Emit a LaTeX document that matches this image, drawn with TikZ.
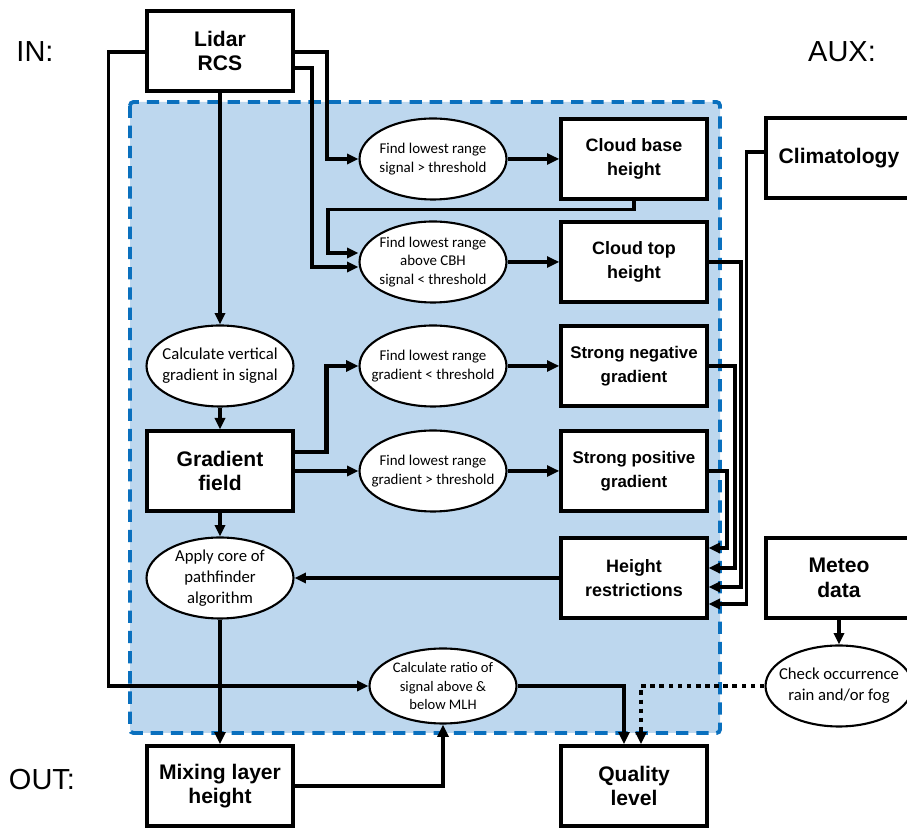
\documentclass[tikz,border=0pt]{standalone}
\usepackage{fontspec}
\setmainfont{Liberation Sans}
\newfontfamily\ellfont{Carlito}
\usepackage{tikz}
\usetikzlibrary{positioning, arrows.meta, shapes.geometric}
\definecolor{mlhfill}{RGB}{189, 215, 238}
\definecolor{mlhdash}{RGB}{10, 112, 190}
\tikzset{
    procbox/.style={rectangle, draw, line width=1.9pt, fill=white, minimum width=2.92cm, minimum height=1.6cm, align=center, font=\fontsize{10.2}{13.6}\selectfont\bfseries},
    bigbox/.style={procbox, font=\fontsize{12}{14}\selectfont\bfseries},
    stepell/.style={ellipse, draw, line width=1.2pt, fill=white, minimum width=2.94cm, minimum height=1.62cm, inner xsep=-12pt, inner ysep=0pt, align=center, font=\ellfont\fontsize{8.5}{10.4}\selectfont},
    bigell/.style={stepell, font=\ellfont\fontsize{9.5}{11.8}\selectfont},
    conn/.style={line width=2.1pt, -{Triangle[length=6.5pt, width=5.8pt]}},
    boldconn/.style={line width=2.6pt, -{Triangle[length=7pt, width=6.2pt]}},
    dotconn/.style={line width=2.4pt, dash pattern=on 2.6pt off 2.6pt, -{Triangle[length=7pt, width=6.2pt]}},
    iolabel/.style={font=\fontsize{16.5}{18}\selectfont}
}
\begin{document}
\begin{tikzpicture}[x=0.02cm, y=-0.02cm]
    \useasboundingbox (0,0) rectangle (907,830);
    % algorithm region
    \draw[mlhdash, fill=mlhfill, line width=2.2pt, dash pattern=on 7pt off 4.5pt, rounded corners=2pt] (130,102) rectangle (720,733);

    \node[iolabel] (inlbl) at (35,52) {IN:};
    \node[iolabel] (auxlbl) at (842,52) {AUX:};
    \node[iolabel] (outlbl) at (42,780) {OUT:};

    \node[bigbox] (lidar) at (220,51) {Lidar\\RCS};
    \node[stepell] (fcbh) at (433,159) {Find lowest range\\signal > threshold};
    \node[procbox] (cbh) at (634,159) {Cloud base\\height};
    \node[stepell] (fcth) at (433,262) {Find lowest range\\above CBH\\signal < threshold};
    \node[procbox] (cth) at (634,262) {Cloud top\\height};
    \node[bigell] (calcgrad) at (220,366) {Calculate vertical\\gradient in signal};
    \node[stepell] (fgneg) at (433,366) {Find lowest range\\gradient < threshold};
    \node[procbox, font=\fontsize{9.6}{13.6}\selectfont\bfseries] (sng) at (634,366) {Strong negative\\gradient};
    \node[bigbox] (gfield) at (220,471) {Gradient\\field};
    \node[stepell] (fgpos) at (433,471) {Find lowest range\\gradient > threshold};
    \node[procbox, font=\fontsize{9.6}{13.6}\selectfont\bfseries] (spg) at (634,471) {Strong positive\\gradient};
    \node[bigell] (apply) at (220,578) {Apply core of\\pathfinder\\algorithm};
    \node[procbox] (hr) at (634,578) {Height\\restrictions};
    \node[stepell, font=\ellfont\fontsize{8.3}{10.4}\selectfont, minimum height=1.5cm] (ratio) at (443,686) {Calculate ratio of\\signal above \&\\below MLH};
    \node[bigbox] (mlh) at (220,786) {Mixing layer\\height};
    \node[bigbox] (quality) at (634,786) {Quality\\level};
    \node[bigbox] (clim) at (839,158) {Climatology};
    \node[bigbox] (meteo) at (839,578) {Meteo\\data};
    \node[bigell] (rain) at (839,686) {Check occurrence\\rain and/or fog};

    % lidar signal paths
    \draw[conn] (lidar.west |- 0,52) -- ++(-37,0) |- (ratio.west);
    \draw[conn] (lidar.east |- 0,52) -- ++(32,0) |- (fcbh.west);
    \draw[conn] (lidar.east |- 0,68) -- ++(17,0) |- (fcth.west |- 0,267);
    \draw[conn] (lidar.south) -- (calcgrad.north);
    \draw[conn] (cbh.south) -- ++(0,9) -- ++(-306,0) |- (fcth.west |- 0,253);

    \draw[boldconn] (fcbh.east) -- (cbh.west);
    \draw[boldconn] (fcth.east) -- (cth.west);
    \draw[boldconn] (fgneg.east) -- (sng.west);
    \draw[boldconn] (fgpos.east) -- (spg.west);

    % gradient branch
    \draw[conn] (calcgrad.south) -- (gfield.north);
    \draw[boldconn] (gfield.east |- 0,452) -- ++(32,0) |- (fgneg.west);
    \draw[conn] (gfield.east) -- (fgpos.west);
    \draw[conn] (gfield.south) -- (apply.north);

    % restrictions
    \draw[conn] (spg.east) -- ++(18,0) |- (hr.east |- 0,548);
    \draw[conn] (sng.east) -- ++(26,0) |- (hr.east |- 0,568);
    \draw[conn] (cth.east) -- ++(32,0) |- (hr.east |- 0,587);
    \draw[conn] (clim.west |- 0,152) -- ++(-18,0) |- (hr.east |- 0,604);
    \draw[conn] (hr.west) -- (apply.east);

    % outputs
    \draw[boldconn] (apply.south) -- (mlh.north);
    \draw[boldconn] (mlh.east) -| (ratio.south);
    \draw[boldconn] (ratio.east) -| ([xshift=-0.2cm]quality.north);
    \draw[conn] (meteo.south) -- (rain.north);
    \draw[dotconn] (rain.west) -| ([xshift=0.14cm]quality.north);
\end{tikzpicture}
\end{document}
